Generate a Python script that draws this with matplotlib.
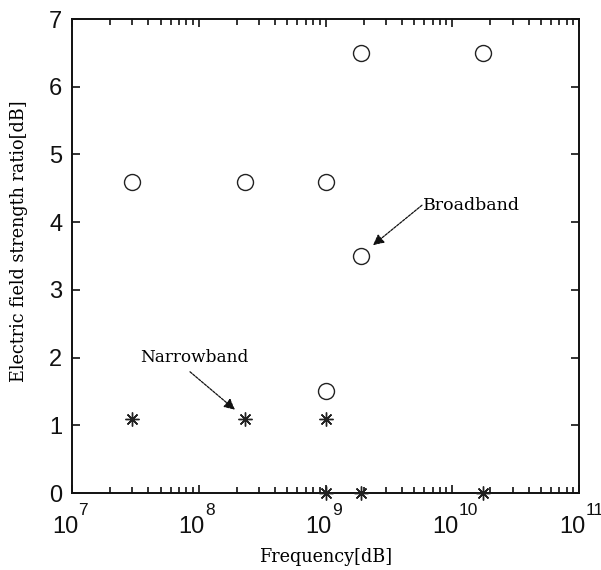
import matplotlib
matplotlib.use("Agg")
import matplotlib.pyplot as plt
from matplotlib.ticker import LogLocator, NullFormatter
import math

# Data
broadband_freq = [3e7, 2.3e8, 1e9, 1e9, 1.9e9, 1.9e9, 1.75e10]
broadband_ratio = [4.6, 4.6, 4.6, 1.5, 6.5, 3.5, 6.5]
narrowband_freq = [3e7, 2.3e8, 1e9, 1e9, 1.9e9, 1.75e10]
narrowband_ratio = [1.1, 1.1, 1.1, 0.0, 0.0, 0.0]
x_ticks = [1e7, 1e8, 1e9, 1e10, 1e11]
y_ticks = [0, 1, 2, 3, 4, 5, 6, 7]

plt.rcParams['font.family'] = ['Liberation Sans', 'DejaVu Sans']

fig = plt.figure(figsize=(6.01, 5.70), dpi=100)
ax = fig.add_axes([72/601, 1 - 493/570, (579-72)/601, (493-19)/570])

ax.plot(broadband_freq, broadband_ratio, linestyle='none', marker='o',
        markersize=11.5, markerfacecolor='none', markeredgecolor='#222222',
        markeredgewidth=1.0, clip_on=False, zorder=3)
ax.plot(narrowband_freq, narrowband_ratio, linestyle='none', marker=(8, 2, 0),
        markersize=10, color='#222222', markeredgewidth=1.0, clip_on=False, zorder=3)

ax.set_xscale('log')
ax.set_xlim(1e7, 1e11)
ax.set_ylim(0, 7)
ax.set_xticks(x_ticks)
ax.set_xticklabels([''] * len(x_ticks))
ax.set_yticks(y_ticks)
ax.xaxis.set_minor_locator(LogLocator(base=10, subs=range(2, 10), numticks=50))
ax.xaxis.set_minor_formatter(NullFormatter())

ax.tick_params(which='both', direction='in', top=True, right=True, labelsize=17, colors='#111111')
ax.tick_params(which='major', length=6, width=1.2, pad=7)
ax.tick_params(which='minor', length=4, width=1.2)
for s in ax.spines.values():
    s.set_linewidth(1.4)
    s.set_color('#111111')

# x tick labels: "10" with raised exponent
for t in x_ticks:
    e = int(round(math.log10(t)))
    ax.annotate('10', xy=(t, 0), xycoords=('data', 'axes fraction'),
                xytext=(4.5, -16.5), textcoords='offset points',
                ha='right', va='top', fontsize=17, color='#111111', annotation_clip=False)
    ax.annotate(str(e), xy=(t, 0), xycoords=('data', 'axes fraction'),
                xytext=(4.5, -7.2), textcoords='offset points',
                ha='left', va='top', fontsize=12.5, color='#111111', annotation_clip=False)

serif = 'DejaVu Serif'
ax.set_xlabel('Frequency[dB]', fontfamily=serif, fontsize=12.7, labelpad=0)
ax.xaxis.set_label_coords(0.5, -(557 - 493) / 474, transform=None)
ax.xaxis.label.set_va('center')
ax.set_ylabel('Electric field strength ratio[dB]', fontfamily=serif, fontsize=12.7)
ax.yaxis.set_label_coords(-(72 - 19) / 507, (493 - 241.5) / 474)
ax.yaxis.label.set_va('center')

arrow_kw = dict(arrowstyle='-|>', color='#111111', lw=0.9, linestyle=(0, (2, 1)),
                mutation_scale=16, shrinkA=0, shrinkB=0)
ax.text(5.9e9, 4.25, 'Broadband', fontfamily=serif, fontsize=12.5, va='center', ha='left')
ax.annotate('', xy=(2.37e9, 3.66), xytext=(5.77e9, 4.25), arrowprops=arrow_kw)
ax.text(3.44e7, 2.00, 'Narrowband', fontfamily=serif, fontsize=12.2, va='center', ha='left')
ax.annotate('', xy=(1.93e8, 1.23), xytext=(8.53e7, 1.79), arrowprops=arrow_kw)

fig.savefig('out.png', dpi=100)
